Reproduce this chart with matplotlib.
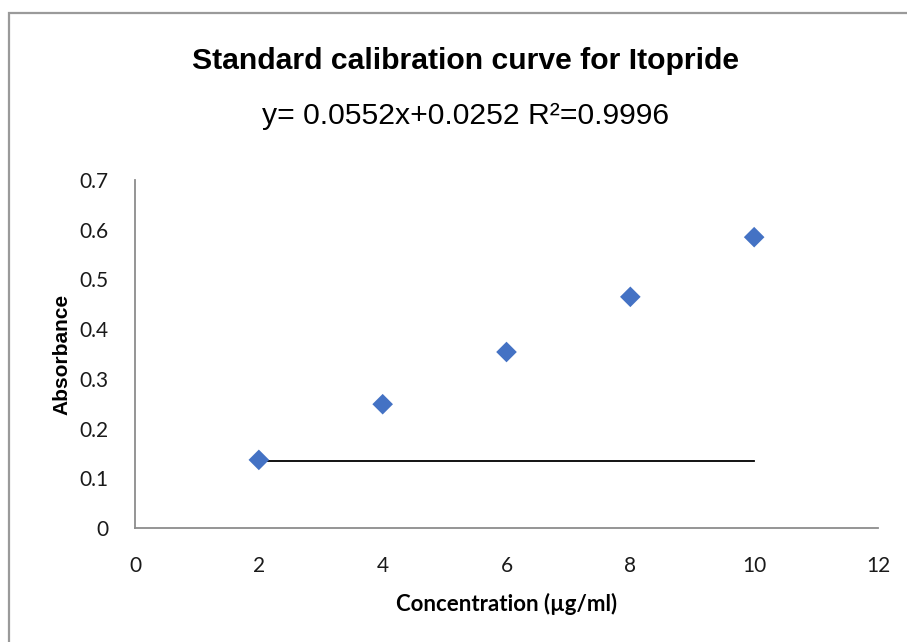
import matplotlib
matplotlib.use("Agg")
import matplotlib.pyplot as plt
from matplotlib.patches import Rectangle

# ---------- data ----------
conc = [2, 4, 6, 8, 10]
absorbance = [0.137, 0.249, 0.354, 0.465, 0.585]
line_x = [2, 10]
line_y = [0.135, 0.135]
xticks = [0, 2, 4, 6, 8, 10, 12]
yticks = [0, 0.1, 0.2, 0.3, 0.4, 0.5, 0.6, 0.7]
yticklabels = ["0", "0.1", "0.2", "0.3", "0.4", "0.5", "0.6", "0.7"]

title = "Standard calibration curve for Itopride"
subtitle = "y= 0.0552x+0.0252 R²=0.9996"

# ---------- figure ----------
fig = plt.figure(figsize=(9.07, 6.42), dpi=100)
fig.patch.set_facecolor("white")

# chart-area border (Excel style), running off right/bottom edges
fig.patches.append(Rectangle((9/907, -0.1), 1.1, 1 - 13/642 + 0.1,
                             transform=fig.transFigure, fill=False,
                             edgecolor="#9a9a9a", linewidth=1.6, zorder=0))

ax = fig.add_axes([135/907, 1 - 528/642, (878 - 135)/907, (528 - 180)/642])
ax.scatter(conc, absorbance, marker="D", s=10.5**2, color="#4472C4",
           edgecolors="none", zorder=3)
ax.plot(line_x, line_y, color="black", linewidth=1.3, zorder=2)

ax.set_xlim(0, 12)
ax.set_ylim(0, 0.7)
ax.set_xticks(xticks)
ax.set_xticklabels([str(t) for t in xticks])
ax.set_yticks(yticks)
ax.set_yticklabels(yticklabels)

for side in ["top", "right"]:
    ax.spines[side].set_visible(False)
for side in ["left", "bottom"]:
    ax.spines[side].set_color("#8c8c8c")
    ax.spines[side].set_linewidth(1.3)

ax.tick_params(axis="x", length=0, pad=20, labelsize=15, labelcolor="#1a1a1a")
ax.tick_params(axis="y", length=0, pad=19, labelsize=15, labelcolor="#1a1a1a")
for lab in ax.get_xticklabels() + ax.get_yticklabels():
    lab.set_family("Lato")

ax.set_xlabel("Concentration (µg/ml)", fontsize=16, fontweight="bold",
              family="Lato", labelpad=12)
ax.set_ylabel("Absorbance", fontsize=15, fontweight="bold",
              family="Liberation Sans", labelpad=6)

fig.text(466/907, 1 - 61/642, title, ha="center", va="center",
         fontsize=21.7, fontweight="bold", family="Liberation Sans")
fig.text(466/907, 1 - 116/642, subtitle, ha="center", va="center",
         fontsize=21.7, family="Liberation Sans")

fig.savefig("out.png", dpi=100, facecolor="white")
